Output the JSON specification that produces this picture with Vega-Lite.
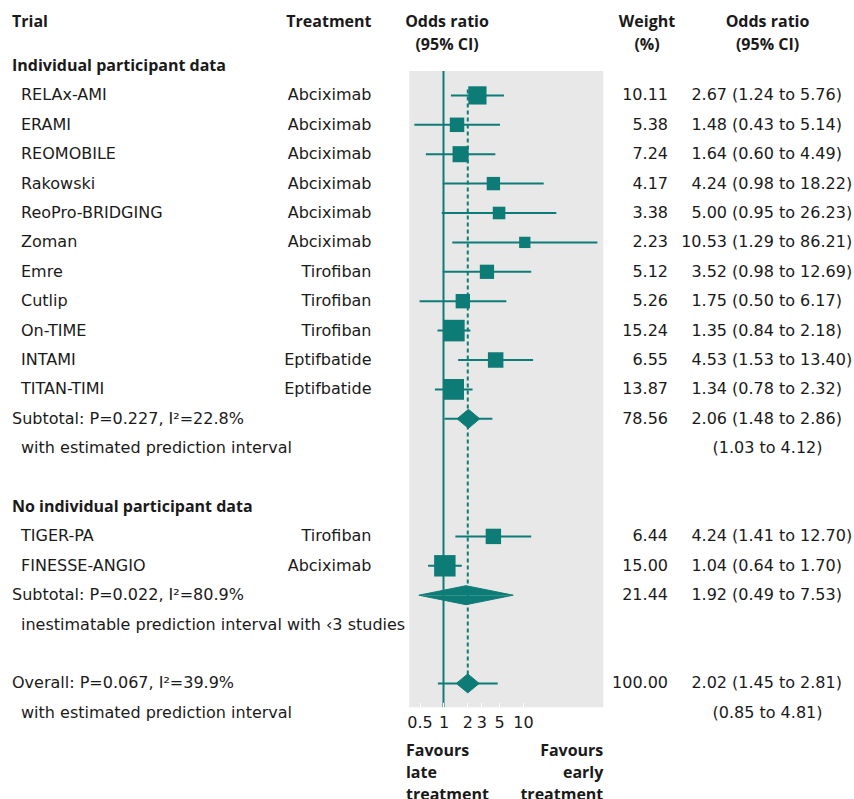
{
  "$schema": "https://vega.github.io/schema/vega-lite/v6.json",
  "padding": {"left": 12, "top": 0, "right": 0, "bottom": 0},
  "background": "white",
  "spacing": 0,
  "bounds": "flush",
  "config": {
    "view": {"stroke": null},
    "text": {"font": "DejaVu Sans", "fontSize": 16, "color": "#1a1a1a"}
  },
  "data": {"values": [
    {"row": 0, "label": "Individual participant data", "kind": "section"},
    {"row": 1, "label": "RELAx-AMI", "kind": "study", "treatment": "Abciximab", "or": 2.67, "lo": 1.24, "hi": 5.76, "weight": 10.11, "ci": "(1.24 to 5.76)"},
    {"row": 2, "label": "ERAMI", "kind": "study", "treatment": "Abciximab", "or": 1.48, "lo": 0.43, "hi": 5.14, "weight": 5.38, "ci": "(0.43 to 5.14)"},
    {"row": 3, "label": "REOMOBILE", "kind": "study", "treatment": "Abciximab", "or": 1.64, "lo": 0.60, "hi": 4.49, "weight": 7.24, "ci": "(0.60 to 4.49)"},
    {"row": 4, "label": "Rakowski", "kind": "study", "treatment": "Abciximab", "or": 4.24, "lo": 0.98, "hi": 18.22, "weight": 4.17, "ci": "(0.98 to 18.22)"},
    {"row": 5, "label": "ReoPro-BRIDGING", "kind": "study", "treatment": "Abciximab", "or": 5.00, "lo": 0.95, "hi": 26.23, "weight": 3.38, "ci": "(0.95 to 26.23)"},
    {"row": 6, "label": "Zoman", "kind": "study", "treatment": "Abciximab", "or": 10.53, "lo": 1.29, "hi": 86.21, "weight": 2.23, "ci": "(1.29 to 86.21)"},
    {"row": 7, "label": "Emre", "kind": "study", "treatment": "Tirofiban", "or": 3.52, "lo": 0.98, "hi": 12.69, "weight": 5.12, "ci": "(0.98 to 12.69)"},
    {"row": 8, "label": "Cutlip", "kind": "study", "treatment": "Tirofiban", "or": 1.75, "lo": 0.50, "hi": 6.17, "weight": 5.26, "ci": "(0.50 to 6.17)"},
    {"row": 9, "label": "On-TIME", "kind": "study", "treatment": "Tirofiban", "or": 1.35, "lo": 0.84, "hi": 2.18, "weight": 15.24, "ci": "(0.84 to 2.18)"},
    {"row": 10, "label": "INTAMI", "kind": "study", "treatment": "Eptifbatide", "or": 4.53, "lo": 1.53, "hi": 13.40, "weight": 6.55, "ci": "(1.53 to 13.40)"},
    {"row": 11, "label": "TITAN-TIMI", "kind": "study", "treatment": "Eptifbatide", "or": 1.34, "lo": 0.78, "hi": 2.32, "weight": 13.87, "ci": "(0.78 to 2.32)"},
    {"row": 12, "label": "Subtotal: P=0.227, I²=22.8%", "kind": "summary", "or": 2.06, "lo": 1.48, "hi": 2.86, "weight": 78.56, "ci": "(1.48 to 2.86)", "pilo": 1.03, "pihi": 4.12},
    {"row": 13, "label": "with estimated prediction interval", "kind": "note", "pi": "(1.03 to 4.12)"},
    {"row": 15, "label": "No individual participant data", "kind": "section"},
    {"row": 16, "label": "TIGER-PA", "kind": "study", "treatment": "Tirofiban", "or": 4.24, "lo": 1.41, "hi": 12.70, "weight": 6.44, "ci": "(1.41 to 12.70)"},
    {"row": 17, "label": "FINESSE-ANGIO", "kind": "study", "treatment": "Abciximab", "or": 1.04, "lo": 0.64, "hi": 1.70, "weight": 15.00, "ci": "(0.64 to 1.70)"},
    {"row": 18, "label": "Subtotal: P=0.022, I²=80.9%", "kind": "summary", "or": 1.92, "lo": 0.49, "hi": 7.53, "weight": 21.44, "ci": "(0.49 to 7.53)"},
    {"row": 19, "label": "inestimatable prediction interval with ‹3 studies", "kind": "note"},
    {"row": 21, "label": "Overall: P=0.067, I²=39.9%", "kind": "overall", "or": 2.02, "lo": 1.45, "hi": 2.81, "weight": 100.00, "ci": "(1.45 to 2.81)", "pilo": 0.85, "pihi": 4.81},
    {"row": 22, "label": "with estimated prediction interval", "kind": "note", "pi": "(0.85 to 4.81)"}
  ]},
  "hconcat": [
    {
      "width": 179.5, "height": 799,
      "layer": [
        {
          "transform": [{"filter": "datum.kind == 'section'"}],
          "mark": {"type": "text", "align": "left", "fontWeight": "bold", "font": "Open Sans"},
          "encoding": {
            "x": {"datum": "left", "type": "nominal", "scale": {"type": "point", "domain": ["left", "center", "right"], "padding": 0}, "axis": null},
            "y": {"field": "row", "type": "quantitative", "scale": {"domain": [-2.2449, 24.932], "reverse": true, "nice": false, "zero": false}, "axis": null},
            "text": {"field": "label", "type": "nominal"}
          }
        },
        {
          "transform": [{"filter": "datum.kind == 'summary' || datum.kind == 'overall'"}],
          "mark": {"type": "text", "align": "left"},
          "encoding": {
            "x": {"datum": "left", "type": "nominal", "axis": null},
            "y": {"field": "row", "type": "quantitative", "axis": null},
            "text": {"field": "label", "type": "nominal"}
          }
        },
        {
          "transform": [{"filter": "datum.kind == 'study' || datum.kind == 'note'"}],
          "mark": {"type": "text", "align": "left", "dx": 9},
          "encoding": {
            "x": {"datum": "left", "type": "nominal", "axis": null},
            "y": {"field": "row", "type": "quantitative", "axis": null},
            "text": {"field": "label", "type": "nominal"}
          }
        },
        {
          "data": {"values": [{"t": "Trial"}]},
          "mark": {"type": "text", "align": "left", "fontWeight": "bold", "font": "Open Sans"},
          "encoding": {
            "x": {"datum": "left", "type": "nominal", "axis": null},
            "y": {"datum": -1.5, "type": "quantitative", "axis": null},
            "text": {"field": "t", "type": "nominal"}
          }
        }
      ]
    },
    {
      "width": 179.5, "height": 799,
      "layer": [
        {
          "transform": [{"filter": "isValid(datum.treatment)"}],
          "mark": {"type": "text", "align": "right"},
          "encoding": {
            "x": {"datum": "right", "type": "nominal", "scale": {"type": "point", "domain": ["left", "center", "right"], "padding": 0}, "axis": null},
            "y": {"field": "row", "type": "quantitative", "scale": {"domain": [-2.2449, 24.932], "reverse": true, "nice": false, "zero": false}, "axis": null},
            "text": {"field": "treatment", "type": "nominal"}
          }
        },
        {
          "data": {"values": [{"t": "Treatment"}]},
          "mark": {"type": "text", "align": "right", "fontWeight": "bold", "font": "Open Sans"},
          "encoding": {
            "x": {"datum": "right", "type": "nominal", "axis": null},
            "y": {"datum": -1.5, "type": "quantitative", "axis": null},
            "text": {"field": "t", "type": "nominal"}
          }
        }
      ]
    },
    {
      "width": 254, "height": 799,
      "resolve": {"scale": {"y": "independent"}},
      "layer": [
        {
          "layer": [
            {
              "data": {"values": [{}]},
              "mark": {"type": "rect", "color": "#e8e8e8"},
              "encoding": {
                "x": {"datum": 0.3713, "type": "quantitative", "title": null, "scale": {"type": "log", "domain": [0.1261, 197.5], "nice": false}, "axis": {"values": [0.5, 1, 2, 3, 5, 10], "format": "~g", "title": null, "domain": false, "grid": false, "offset": -96.7, "tickSize": 5, "tickColor": "white", "tickWidth": 1, "labelPadding": 7, "labelFontSize": 16, "labelFont": "DejaVu Sans", "labelColor": "#1a1a1a", "labelFlush": false, "labelOverlap": false, "zindex": 1}},
                "x2": {"datum": 102.4},
                "y": {"datum": 0.17, "type": "quantitative", "scale": {"domain": [-2.2449, 24.932], "reverse": true, "nice": false, "zero": false}, "axis": null},
                "y2": {"datum": 21.81}
              }
            },
            {
              "data": {"values": [{}]},
              "mark": {"type": "rule", "color": "#0e7c76", "strokeWidth": 2},
              "encoding": {
                "x": {"datum": 1, "type": "quantitative", "title": null, "axis": {"values": [0.5, 1, 2, 3, 5, 10], "format": "~g", "title": null, "domain": false, "grid": false, "offset": -96.7, "tickSize": 5, "tickColor": "white", "tickWidth": 1, "labelPadding": 7, "labelFontSize": 16, "labelFont": "DejaVu Sans", "labelColor": "#1a1a1a", "labelFlush": false, "labelOverlap": false, "zindex": 1}},
                "y": {"datum": 0.17, "type": "quantitative", "axis": null},
                "y2": {"datum": 21.81}
              }
            },
            {
              "transform": [{"filter": "datum.kind == 'overall'"}],
              "mark": {"type": "rule", "color": "#0e7c76", "strokeWidth": 2, "strokeDash": [4, 3]},
              "encoding": {
                "x": {"field": "or", "type": "quantitative", "title": null, "axis": {"values": [0.5, 1, 2, 3, 5, 10], "format": "~g", "title": null, "domain": false, "grid": false, "offset": -96.7, "tickSize": 5, "tickColor": "white", "tickWidth": 1, "labelPadding": 7, "labelFontSize": 16, "labelFont": "DejaVu Sans", "labelColor": "#1a1a1a", "labelFlush": false, "labelOverlap": false, "zindex": 1}},
                "y": {"datum": 0.8, "type": "quantitative", "axis": null},
                "y2": {"datum": 21}
              }
            },
            {
              "transform": [{"filter": "datum.kind == 'study'"}],
              "mark": {"type": "rule", "color": "#0e7c76", "strokeWidth": 2},
              "encoding": {
                "x": {"field": "lo", "type": "quantitative", "title": null, "axis": {"values": [0.5, 1, 2, 3, 5, 10], "format": "~g", "title": null, "domain": false, "grid": false, "offset": -96.7, "tickSize": 5, "tickColor": "white", "tickWidth": 1, "labelPadding": 7, "labelFontSize": 16, "labelFont": "DejaVu Sans", "labelColor": "#1a1a1a", "labelFlush": false, "labelOverlap": false, "zindex": 1}},
                "x2": {"field": "hi"},
                "y": {"field": "row", "type": "quantitative", "axis": null}
              }
            },
            {
              "transform": [{"filter": "isValid(datum.pilo)"}],
              "mark": {"type": "rule", "color": "#0e7c76", "strokeWidth": 2},
              "encoding": {
                "x": {"field": "pilo", "type": "quantitative", "title": null, "axis": {"values": [0.5, 1, 2, 3, 5, 10], "format": "~g", "title": null, "domain": false, "grid": false, "offset": -96.7, "tickSize": 5, "tickColor": "white", "tickWidth": 1, "labelPadding": 7, "labelFontSize": 16, "labelFont": "DejaVu Sans", "labelColor": "#1a1a1a", "labelFlush": false, "labelOverlap": false, "zindex": 1}},
                "x2": {"field": "pihi"},
                "y": {"field": "row", "type": "quantitative", "axis": null}
              }
            },
            {
              "transform": [{"filter": "datum.kind == 'study'"}],
              "mark": {"type": "square", "filled": true, "color": "#0e7c76", "opacity": 1},
              "encoding": {
                "x": {"field": "or", "type": "quantitative", "title": null, "axis": {"values": [0.5, 1, 2, 3, 5, 10], "format": "~g", "title": null, "domain": false, "grid": false, "offset": -96.7, "tickSize": 5, "tickColor": "white", "tickWidth": 1, "labelPadding": 7, "labelFontSize": 16, "labelFont": "DejaVu Sans", "labelColor": "#1a1a1a", "labelFlush": false, "labelOverlap": false, "zindex": 1}},
                "y": {"field": "row", "type": "quantitative", "axis": null},
                "size": {"field": "weight", "type": "quantitative", "scale": {"domain": [0, 16], "range": [70, 486]}, "legend": null}
              }
            },
            {
              "data": {"values": [{"t": "Odds ratio\n(95% CI)"}]},
              "mark": {"type": "text", "align": "center", "fontWeight": "bold", "font": "Open Sans", "lineBreak": "\n", "lineHeight": 23},
              "encoding": {
                "x": {"datum": 1.107, "type": "quantitative", "title": null, "axis": {"values": [0.5, 1, 2, 3, 5, 10], "format": "~g", "title": null, "domain": false, "grid": false, "offset": -96.7, "tickSize": 5, "tickColor": "white", "tickWidth": 1, "labelPadding": 7, "labelFontSize": 16, "labelFont": "DejaVu Sans", "labelColor": "#1a1a1a", "labelFlush": false, "labelOverlap": false, "zindex": 1}},
                "y": {"datum": -1.5, "type": "quantitative", "axis": null},
                "text": {"field": "t", "type": "nominal"}
              }
            },
            {
              "data": {"values": [{"t": "Favours late treatment"}]},
              "mark": {"type": "text", "align": "left", "fontWeight": "bold", "font": "Open Sans", "lineBreak": " ", "lineHeight": 22},
              "encoding": {
                "x": {"datum": 0.3375, "type": "quantitative", "title": null, "axis": {"values": [0.5, 1, 2, 3, 5, 10], "format": "~g", "title": null, "domain": false, "grid": false, "offset": -96.7, "tickSize": 5, "tickColor": "white", "tickWidth": 1, "labelPadding": 7, "labelFontSize": 16, "labelFont": "DejaVu Sans", "labelColor": "#1a1a1a", "labelFlush": false, "labelOverlap": false, "zindex": 1}},
                "y": {"datum": 23.29, "type": "quantitative", "axis": null},
                "text": {"field": "t", "type": "nominal"}
              }
            },
            {
              "data": {"values": [{"t": "Favours early treatment"}]},
              "mark": {"type": "text", "align": "right", "fontWeight": "bold", "font": "Open Sans", "lineBreak": " ", "lineHeight": 22},
              "encoding": {
                "x": {"datum": 102.4, "type": "quantitative", "title": null, "axis": {"values": [0.5, 1, 2, 3, 5, 10], "format": "~g", "title": null, "domain": false, "grid": false, "offset": -96.7, "tickSize": 5, "tickColor": "white", "tickWidth": 1, "labelPadding": 7, "labelFontSize": 16, "labelFont": "DejaVu Sans", "labelColor": "#1a1a1a", "labelFlush": false, "labelOverlap": false, "zindex": 1}},
                "y": {"datum": 23.29, "type": "quantitative", "axis": null},
                "text": {"field": "t", "type": "nominal"}
              }
            }
          ]
        },
        {
          "transform": [
            {"filter": "datum.kind == 'summary' || datum.kind == 'overall'"},
            {"fold": ["lo", "or", "hi"], "as": ["vertex", "xv"]},
            {"window": [{"op": "row_number", "as": "vi"}, {"op": "percent_rank", "as": "vp"}], "groupby": ["row"], "sort": [{"field": "xv"}]}
          ],
          "layer": [
            {
              "mark": {"type": "line", "fill": "#0e7c76", "stroke": "#0e7c76", "strokeWidth": 1, "opacity": 1},
              "encoding": {
                "x": {"field": "xv", "type": "quantitative", "title": null, "axis": {"values": [0.5, 1, 2, 3, 5, 10], "format": "~g", "title": null, "domain": false, "grid": false, "offset": -96.7, "tickSize": 5, "tickColor": "white", "tickWidth": 1, "labelPadding": 7, "labelFontSize": 16, "labelFont": "DejaVu Sans", "labelColor": "#1a1a1a", "labelFlush": false, "labelOverlap": false, "zindex": 1}},
                "y": {"field": "row", "type": "ordinal", "scale": {"type": "band", "domain": [-2, -1, 0, 1, 2, 3, 4, 5, 6, 7, 8, 9, 10, 11, 12, 13, 14, 15, 16, 17, 18, 19, 20, 21, 22, 23, 24], "paddingInner": 0.313, "paddingOuter": 0.245, "align": 0.5, "round": false}, "axis": null},
                "yOffset": {"field": "vi", "type": "quantitative", "scale": {"domain": [0, 0.5, 1, 2, 3], "range": [0, 9.5, 0, -9.5, 0], "nice": false, "zero": false}},
                "order": {"field": "vi"},
                "detail": {"field": "row", "type": "nominal"}
              }
            },
            {
              "mark": {"type": "line", "fill": "#0e7c76", "stroke": "#0e7c76", "strokeWidth": 1, "opacity": 1},
              "encoding": {
                "x": {"field": "xv", "type": "quantitative", "title": null, "axis": {"values": [0.5, 1, 2, 3, 5, 10], "format": "~g", "title": null, "domain": false, "grid": false, "offset": -96.7, "tickSize": 5, "tickColor": "white", "tickWidth": 1, "labelPadding": 7, "labelFontSize": 16, "labelFont": "DejaVu Sans", "labelColor": "#1a1a1a", "labelFlush": false, "labelOverlap": false, "zindex": 1}},
                "y": {"field": "row", "type": "ordinal", "axis": null},
                "yOffset": {"field": "vp", "type": "quantitative"},
                "order": {"field": "vp"},
                "detail": {"field": "row", "type": "nominal"}
              }
            }
          ]
        }
      ]
    },
    {
      "width": 42, "height": 799,
      "layer": [
        {
          "transform": [{"filter": "isValid(datum.weight)"}],
          "mark": {"type": "text", "align": "right"},
          "encoding": {
            "x": {"datum": "right", "type": "nominal", "scale": {"type": "point", "domain": ["left", "center", "right"], "padding": 0}, "axis": null},
            "y": {"field": "row", "type": "quantitative", "scale": {"domain": [-2.2449, 24.932], "reverse": true, "nice": false, "zero": false}, "axis": null},
            "text": {"field": "weight", "type": "quantitative", "format": ".2f"}
          }
        },
        {
          "data": {"values": [{"t": "Weight\n(%)"}]},
          "mark": {"type": "text", "align": "center", "fontWeight": "bold", "font": "Open Sans", "lineBreak": "\n", "lineHeight": 23},
          "encoding": {
            "x": {"datum": "center", "type": "nominal", "axis": null},
            "y": {"datum": -1.5, "type": "quantitative", "axis": null},
            "text": {"field": "t", "type": "nominal"}
          }
        }
      ]
    },
    {
      "width": 59, "height": 799,
      "layer": [
        {
          "transform": [{"filter": "isValid(datum.or)"}],
          "mark": {"type": "text", "align": "right"},
          "encoding": {
            "x": {"datum": "right", "type": "nominal", "scale": {"type": "point", "domain": ["left", "center", "right"], "padding": 0}, "axis": null},
            "y": {"field": "row", "type": "quantitative", "scale": {"domain": [-2.2449, 24.932], "reverse": true, "nice": false, "zero": false}, "axis": null},
            "text": {"field": "or", "type": "quantitative", "format": ".2f"}
          }
        }
      ]
    },
    {
      "width": 81, "height": 799,
      "layer": [
        {
          "transform": [{"filter": "isValid(datum.ci)"}],
          "mark": {"type": "text", "align": "left", "dx": 5},
          "encoding": {
            "x": {"datum": "left", "type": "nominal", "scale": {"type": "point", "domain": ["left", "center", "right"], "padding": 0}, "axis": null},
            "y": {"field": "row", "type": "quantitative", "scale": {"domain": [-2.2449, 24.932], "reverse": true, "nice": false, "zero": false}, "axis": null},
            "text": {"field": "ci", "type": "nominal"}
          }
        },
        {
          "transform": [{"filter": "isValid(datum.pi)"}],
          "mark": {"type": "text", "align": "center"},
          "encoding": {
            "x": {"datum": "center", "type": "nominal", "axis": null},
            "y": {"field": "row", "type": "quantitative", "axis": null},
            "text": {"field": "pi", "type": "nominal"}
          }
        },
        {
          "data": {"values": [{"t": "Odds ratio\n(95% CI)"}]},
          "mark": {"type": "text", "align": "center", "fontWeight": "bold", "font": "Open Sans", "lineBreak": "\n", "lineHeight": 23},
          "encoding": {
            "x": {"datum": "center", "type": "nominal", "axis": null},
            "y": {"datum": -1.5, "type": "quantitative", "axis": null},
            "text": {"field": "t", "type": "nominal"}
          }
        }
      ]
    }
  ]
}
